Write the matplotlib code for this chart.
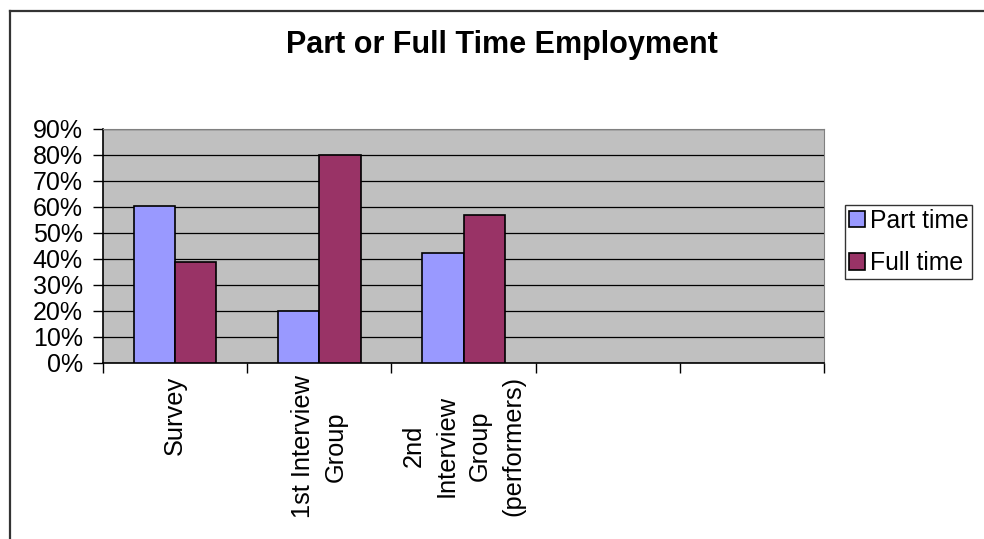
import numpy as np
from matplotlib import pyplot as plt
from matplotlib.lines import Line2D

# chart data
categories = ["Survey", "1st Interview\nGroup", "2nd\nInterview\nGroup\n(performers)", "", ""]
part_time = [0.605, 0.20, 0.425, np.nan, np.nan]
full_time = [0.39, 0.80, 0.57, np.nan, np.nan]
series_names = ["Part time", "Full time"]
y_ticks = [0, 0.1, 0.2, 0.3, 0.4, 0.5, 0.6, 0.7, 0.8, 0.9]

plt.rcParams['font.family'] = ['Liberation Sans', 'DejaVu Sans']

fig = plt.figure(figsize=(9.84, 5.39), dpi=100)
ax = fig.add_axes([103 / 984, 1 - 363 / 539, 721 / 984, 234 / 539])
ax.set_facecolor("#C0C0C0")

x = np.arange(len(categories))
w = 1 / 3.5
ax.bar(x - w / 2, part_time, w, color="#9999FF", edgecolor="black", linewidth=1.2,
       label=series_names[0], zorder=3)
ax.bar(x + w / 2, full_time, w, color="#993366", edgecolor="black", linewidth=1.2,
       label=series_names[1], zorder=3)

ax.set_xlim(-0.5, len(categories) - 0.5)
ax.set_ylim(0, 0.9)
ax.set_yticks(y_ticks)
ax.set_yticklabels(["{:.0f}%".format(v * 100) for v in y_ticks], fontsize=18)
ax.yaxis.grid(True, color="black", linewidth=0.9, zorder=0)

# boundary ticks on the category axis, labels at the centres
ax.set_xticks(np.arange(len(categories) + 1) - 0.5)
ax.set_xticklabels([])
ax.set_xticks(x, minor=True)
ax.set_xticklabels(categories, minor=True, rotation=90, fontsize=18.3,
                   va="top", ha="center", multialignment="center", linespacing=1.47)
ax.tick_params(axis="x", which="minor", length=0, pad=9)
ax.tick_params(axis="x", which="major", length=7, width=1, direction="out")
ax.tick_params(axis="y", length=7, width=1, direction="out", pad=7.5)

for s in ["top", "right"]:
    ax.spines[s].set_color("#808080")
for s in ["left", "bottom"]:
    ax.spines[s].set_color("black")
    ax.spines[s].set_linewidth(1.2)

fig.text(502 / 984, 1 - 45 / 539, "Part or Full Time Employment", fontsize=22,
         fontweight="bold", ha="center", va="center")

leg = fig.legend(loc="upper left", bbox_to_anchor=(845 / 984, 1 - 205 / 539),
                 fontsize=17.8, frameon=True, fancybox=False, edgecolor="black",
                 handlelength=0.65, handleheight=0.65, handletextpad=0.2,
                 borderpad=0.15, labelspacing=0.75, borderaxespad=0)
leg.get_frame().set_linewidth(1)

# outer chart frame
fig.add_artist(Line2D([10 / 984, 10 / 984], [0, 1 - 11 / 539], color="#333333", linewidth=1.6))
fig.add_artist(Line2D([10 / 984, 1], [1 - 11 / 539, 1 - 11 / 539], color="#333333", linewidth=1.6))

fig.savefig("out.png", dpi=100, facecolor="white")
